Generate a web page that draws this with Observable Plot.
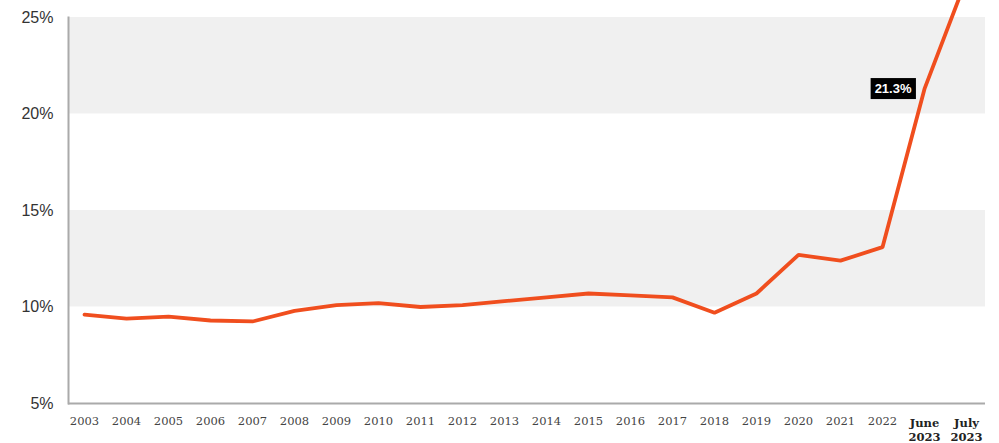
<!DOCTYPE html>
<html>
<head>
<meta charset="utf-8">
<script src="https://cdn.jsdelivr.net/npm/d3@7"></script>
<script src="https://cdn.jsdelivr.net/npm/@observablehq/plot@0.6"></script>
<style>
  html, body { margin: 0; padding: 0; background: #fff; }
  #chart { width: 999px; height: 443px; overflow: hidden; }
</style>
</head>
<body>
<div id="chart"></div>
<script>
const periods = ["2003","2004","2005","2006","2007","2008","2009","2010","2011","2012",
  "2013","2014","2015","2016","2017","2018","2019","2020","2021","2022","June 2023","July 2023"];
const values = [9.6, 9.4, 9.5, 9.3, 9.25, 9.8, 10.1, 10.2, 10.0, 10.1,
  10.3, 10.5, 10.7, 10.6, 10.5, 9.7, 10.7, 12.7, 12.4, 13.1, 21.3, 27.0];
const yTicks = [5, 10, 15, 20, 25];
const bandLow = [10, 20];
const bandHigh = [15, 25];
const annotationPeriod = "June 2023";
const annotationText = "21.3%";

const data = periods.map((p, i) => ({period: p, value: values[i]}));
const bands = bandLow.map((lo, i) => ({lo, hi: bandHigh[i]}));
const regular = periods.filter(p => !p.includes(" "));
const bold = periods.filter(p => p.includes(" "));
const fmtX = p => p.replace(" ", "\n");

const chart = Plot.plot({
  width: 999,
  height: 443,
  marginTop: 0,
  marginBottom: 40,
  marginLeft: 68,
  marginRight: 14,
  style: {fontFamily: "'Liberation Sans', Arial, sans-serif", background: "#fff"},
  x: {type: "point", domain: periods, range: [84, 966], padding: 0, round: false},
  y: {domain: [5, 25.88]},
  marks: [
    Plot.rect(bands, {y1: "lo", y2: "hi", fill: "#f0f0f0"}),
    Plot.frame({anchor: "left", stroke: "#aaa", strokeWidth: 2, insetTop: 17}),
    Plot.ruleY([5], {stroke: "#aaa", strokeWidth: 2}),
    Plot.axisY(yTicks, {tickSize: 0, tickPadding: 15, tickFormat: d => d + "%", fontSize: 16, fill: "#333", label: null}),
    Plot.axisX(regular, {tickSize: 0, tickPadding: 13, tickFormat: fmtX, fontSize: 11.5, fill: "#444", fontFamily: "'DejaVu Serif', serif", label: null}),
    Plot.axisX(bold, {tickSize: 0, tickPadding: 13, tickFormat: fmtX, fontSize: 11.5, fill: "#222", fontWeight: "bold", lineHeight: 1.25, fontFamily: "'DejaVu Serif', serif", label: null}),
    Plot.line(data, {x: "period", y: "value", stroke: "#f04e1e", strokeWidth: 3.8, strokeLinejoin: "miter"}),
    Plot.text(data.filter(d => d.period === annotationPeriod), {x: "period", y: "value", text: () => annotationText, textAnchor: "end", dx: -13, fill: "#fff", fontSize: 13, fontWeight: "bold"})
  ]
});
document.getElementById("chart").append(chart);

// draw black box behind annotation label
d3.select(chart).selectAll("text").each(function() {
  if (this.textContent === annotationText) {
    const b = this.getBBox();
    const tr = this.getAttribute("transform");
    const r = document.createElementNS("http://www.w3.org/2000/svg", "rect");
    r.setAttribute("x", b.x - 4);
    r.setAttribute("y", b.y - 3);
    r.setAttribute("width", b.width + 8);
    r.setAttribute("height", b.height + 6);
    r.setAttribute("fill", "#000");
    if (tr) r.setAttribute("transform", tr);
    this.parentNode.insertBefore(r, this);
  }
});
</script>
</body>
</html>
